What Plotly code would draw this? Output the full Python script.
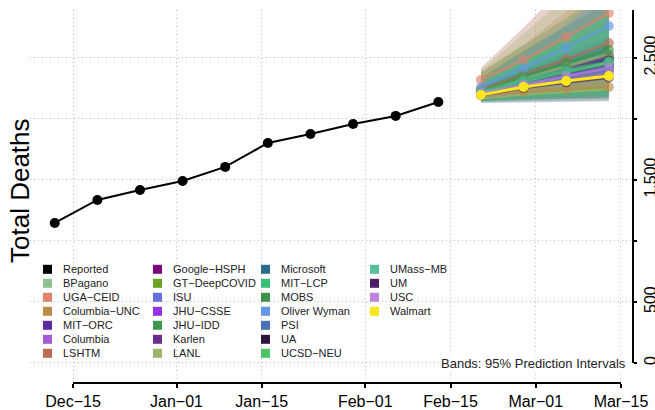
import plotly.graph_objects as go

# ---------------- data ----------------
reported_dates = ["2020-12-12", "2020-12-19", "2020-12-26", "2021-01-02", "2021-01-09",
                  "2021-01-16", "2021-01-23", "2021-01-30", "2021-02-06", "2021-02-13"]
reported_deaths = [1148, 1336, 1418, 1492, 1607, 1803, 1877, 1959, 2025, 2139]

forecast_dates = ["2021-02-20", "2021-02-27", "2021-03-06", "2021-03-13"]

models = ["BPagano", "UGA−CEID", "Columbia−UNC", "MIT−ORC", "Columbia", "LSHTM",
          "Google−HSPH", "GT−DeepCOVID", "ISU", "JHU−CSSE", "JHU−IDD", "Karlen", "LANL",
          "Microsoft", "MIT−LCP", "MOBS", "Oliver Wyman", "PSI", "UA", "UCSD−NEU",
          "UMass−MB", "UM", "USC", "Walmart"]

colors = ["#8FC08F", "#E0836A", "#BA8C4A", "#5A2A9E", "#A35BD6", "#BA6A55",
          "#7F007F", "#6BA422", "#6470DB", "#9433E6", "#3E9650", "#6A2D8F", "#9DB46C",
          "#2B6C8A", "#3BBE78", "#3E9147", "#6496E5", "#4B72B5", "#2E1540", "#4FC466",
          "#57BF9A", "#4A1F66", "#C084E0", "#FAE61E"]

median = [
    [2215, 2290, 2365, 2440], [2320, 2484, 2672, 2869], [2200, 2225, 2245, 2262],
    [2225, 2310, 2400, 2490], [2210, 2270, 2320, 2370], [2240, 2360, 2490, 2623],
    [2215, 2290, 2360, 2420], [2220, 2300, 2380, 2450], [2210, 2280, 2350, 2410],
    [2215, 2290, 2360, 2430], [2225, 2320, 2420, 2520], [2220, 2310, 2410, 2516],
    [2230, 2330, 2430, 2530], [2220, 2300, 2370, 2440], [2221, 2328, 2402, 2475],
    [2230, 2350, 2460, 2566], [2260, 2418, 2582, 2762], [2210, 2280, 2340, 2400],
    [2215, 2300, 2390, 2480], [2215, 2300, 2385, 2460], [2220, 2310, 2395, 2470],
    [2195, 2255, 2300, 2340], [2210, 2280, 2350, 2420], [2197, 2262, 2311, 2352],
]
lower = [
    [2150, 2170, 2185, 2195], [2250, 2360, 2470, 2560], [2160, 2165, 2170, 2175],
    [2180, 2230, 2280, 2320], [2170, 2200, 2230, 2260], [2150, 2170, 2190, 2200],
    [2175, 2220, 2260, 2300], [2145, 2155, 2165, 2170], [2150, 2160, 2170, 2180],
    [2175, 2220, 2260, 2300], [2140, 2150, 2160, 2165], [2180, 2240, 2300, 2350],
    [2135, 2140, 2145, 2150], [2160, 2190, 2220, 2240], [2160, 2200, 2230, 2250],
    [2145, 2165, 2180, 2190], [2200, 2300, 2390, 2480], [2130, 2135, 2140, 2145],
    [2180, 2240, 2290, 2340], [2150, 2170, 2185, 2195], [2145, 2160, 2175, 2185],
    [2165, 2205, 2235, 2260], [2160, 2200, 2240, 2270], [2160, 2190, 2215, 2235],
]
upper = [
    [2300, 2460, 2620, 2790], [2390, 2610, 2880, 3180], [2240, 2290, 2330, 2360],
    [2260, 2370, 2480, 2590], [2250, 2320, 2390, 2450], [2420, 2750, 3100, 3450],
    [2250, 2340, 2430, 2510], [2320, 2500, 2680, 2870], [2270, 2400, 2530, 2650],
    [2245, 2340, 2430, 2510], [2380, 2600, 2820, 3050], [2250, 2360, 2470, 2590],
    [2400, 2700, 3000, 3300], [2280, 2410, 2530, 2650], [2290, 2470, 2620, 2770],
    [2340, 2560, 2760, 2960], [2320, 2540, 2770, 3050], [2290, 2420, 2550, 2680],
    [2260, 2390, 2500, 2610], [2300, 2480, 2660, 2850], [2320, 2500, 2680, 2880],
    [2225, 2300, 2360, 2410], [2250, 2340, 2430, 2510], [2235, 2335, 2410, 2475],
]

x_tick_dates = ["2020-12-15", "2021-01-01", "2021-01-15", "2021-02-01",
                "2021-02-15", "2021-03-01", "2021-03-15"]
x_tick_labels = ["Dec−15", "Jan−01", "Jan−15", "Feb−01", "Feb−15", "Mar−01", "Mar−15"]
y_tick_vals = [0, 500, 1000, 1500, 2000, 2500]
y_tick_labels = ["0", "500", "", "1,500", "", "2,500"]

# ---------------- figure ----------------
FONT = "Liberation Sans, Arial, Helvetica, sans-serif"
W, H = 655, 410
ML, MR, MT, MB = 30, 22, 10, 27
PW, PH = W - ML - MR, H - MT - MB
Y_RANGE = [-164, 2893]


def hex_rgba(h, a):
    h = h.lstrip("#")
    return "rgba(%d,%d,%d,%.3f)" % (int(h[0:2], 16), int(h[2:4], 16), int(h[4:6], 16), a)


fig = go.Figure()

# bands
for name, c, lo, up in zip(models, colors, lower, upper):
    fig.add_trace(go.Scatter(
        x=forecast_dates + forecast_dates[::-1], y=up + lo[::-1],
        fill="toself", fillcolor=hex_rgba(c, 0.3), line=dict(width=0),
        mode="lines", hoverinfo="skip", showlegend=False))

# median lines + points
for name, c, med in zip(models, colors, median):
    op = 1.0 if name == "Walmart" else 0.65
    fig.add_trace(go.Scatter(
        x=forecast_dates, y=med, mode="lines+markers", name=name,
        line=dict(color=c, width=3), marker=dict(color=c, size=10),
        opacity=op, showlegend=False))

# reported
fig.add_trace(go.Scatter(
    x=reported_dates, y=reported_deaths, mode="lines+markers", name="Reported",
    line=dict(color="black", width=2), marker=dict(color="black", size=10),
    showlegend=False))

shapes = []
annotations = []

# axis lines (R-style, spanning the ticks only)
shapes.append(dict(type="line", xref="x", yref="paper", x0=x_tick_dates[0], x1=x_tick_dates[-1],
                   y0=0, y1=0, line=dict(color="black", width=2)))
shapes.append(dict(type="line", xref="paper", yref="paper", x0=1, x1=1,
                   y0=-Y_RANGE[0] / (Y_RANGE[1] - Y_RANGE[0]), y1=1,
                   line=dict(color="black", width=2)))

# manual legend (column-wise like R)
legend_names = ["Reported"] + models
legend_colors = ["#000000"] + colors
col_x = [43, 153, 261, 370]
row_y0, row_dy = 269.3, 14.0
for i, (n, c) in enumerate(zip(legend_names, legend_colors)):
    col, row = divmod(i, 7)
    px = col_x[col]
    py = row_y0 + row * row_dy
    shapes.append(dict(type="rect", xref="paper", yref="paper",
                       x0=(px - ML) / PW, x1=(px + 9 - ML) / PW,
                       y0=(H - MB - (py + 4.5)) / PH, y1=(H - MB - (py - 4.5)) / PH,
                       fillcolor=c, line=dict(width=0)))
    annotations.append(dict(xref="paper", yref="paper", x=(px + 18 - ML) / PW,
                            y=(H - MB - py) / PH, text=n, showarrow=False,
                            xanchor="left", yanchor="middle",
                            font=dict(family=FONT, size=11, color="#222222")))

annotations.append(dict(xref="paper", yref="paper", x=(628 - ML) / PW, y=(H - MB - 363) / PH,
                        text="Bands: 95% Prediction Intervals", showarrow=False,
                        xanchor="right", yanchor="middle", bgcolor="white",
                        font=dict(family=FONT, size=13, color="#222222")))

annotations.append(dict(xref="paper", yref="paper", x=(20 - ML) / PW, y=(H - MB - 191) / PH,
                        text="Total Deaths", showarrow=False, textangle=-90,
                        xanchor="center", yanchor="middle",
                        font=dict(family=FONT, size=26, color="black")))

fig.update_layout(
    width=W, height=H,
    margin=dict(l=ML, r=MR, t=MT, b=MB, pad=0),
    plot_bgcolor="white", paper_bgcolor="white",
    font=dict(family=FONT, color="black"),
    showlegend=False,
    shapes=shapes, annotations=annotations,
    xaxis=dict(
        range=["2020-12-07 22:30", "2021-03-16 23:20"],
        tickmode="array", tickvals=x_tick_dates, ticktext=x_tick_labels,
        ticks="outside", ticklen=4, tickwidth=2, tickcolor="black",
        tickfont=dict(family=FONT, size=16, color="black"),
        showgrid=True, gridcolor="#BEBEBE", griddash="1px,3px", gridwidth=1,
        showline=False, zeroline=False, automargin=False,
    ),
    yaxis=dict(
        range=Y_RANGE, side="right",
        tickmode="array", tickvals=y_tick_vals, ticktext=y_tick_labels,
        tickangle=-90,
        ticks="outside", ticklen=3, tickwidth=2, tickcolor="black",
        tickfont=dict(family=FONT, size=16, color="black"),
        showgrid=True, gridcolor="#BEBEBE", griddash="1px,3px", gridwidth=1,
        showline=False, zeroline=False, automargin=False,
    ),
)

fig.write_html("out.html", config={"displayModeBar": False},
               post_script="document.body.style.margin='0';document.body.style.padding='0';")
